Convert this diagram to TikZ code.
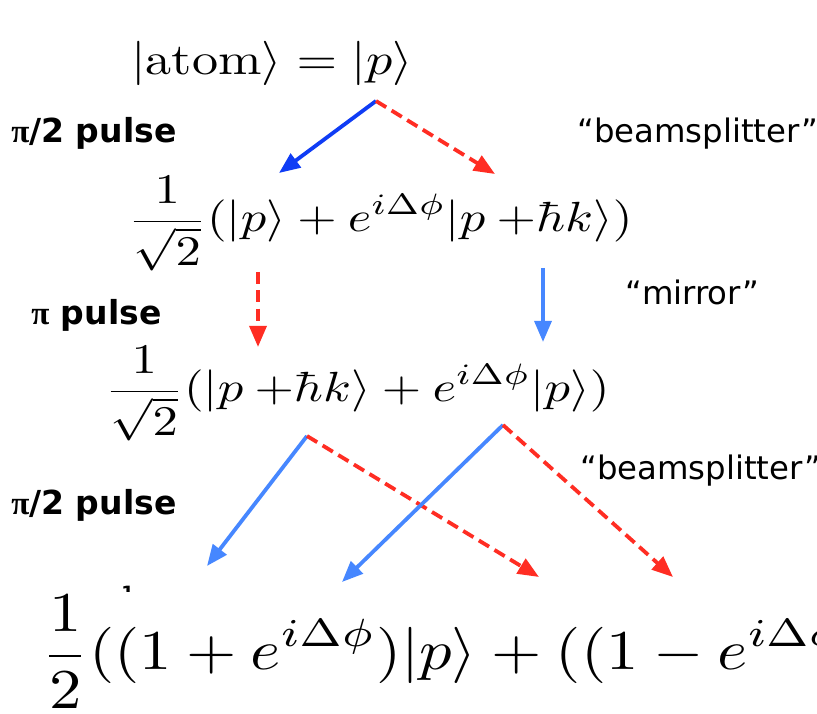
\documentclass[tikz,border=0pt]{standalone}
\usepackage{amsmath}
\usepackage{fontspec}
\usetikzlibrary{arrows.meta}

\newfontfamily\labelfont{DejaVu Sans}
\newfontfamily\pifont{Liberation Serif}

\definecolor{deepblue}{RGB}{15,60,245}
\definecolor{paleblue}{RGB}{70,135,255}
\definecolor{kickred}{RGB}{255,45,35}

\tikzset{
  eqn/.style={inner sep=0pt, anchor=base, xscale=3.6, yscale=3.0},
  pulselabel/.style={inner sep=0pt, anchor=base west,
    font=\fontsize{23.5}{28}\selectfont\labelfont\bfseries},
  optlabel/.style={inner sep=0pt, anchor=base west,
    font=\fontsize{23}{27}\selectfont\labelfont},
  arm/.style={line width=2.7pt, -{Triangle[length=15pt,width=12pt]}},
  restarm/.style={arm, draw=paleblue},
  kickarm/.style={arm, draw=kickred, dash pattern=on 8.5pt off 4.5pt},
}

\newcommand{\pk}{p\mskip\medmuskip{+}\hbar k}
\newcommand{\pisym}{{\pifont π}}

\begin{document}
\begin{tikzpicture}[x=0.025cm, y=-0.025cm]

  % -- frame, the last line is cut by the right edge --
  \clip (0,0) rectangle (817,714);
  \fill[white] (0,0) rectangle (817,714);

  % -- anchor points of the states --
  \coordinate (s0) at (272,75);
  \coordinate (s1) at (380,232);
  \coordinate (s2) at (357,402);
  \coordinate (s3) at (40,670);

  % -- states --
  \node[eqn, xscale=1.03, yscale=1.05] (atom) at (s0) {$\displaystyle |\mathrm{atom}\rangle = |p\rangle$};
  \node[eqn] (split) at (s1) {$\displaystyle \frac{1}{\sqrt{2}}(|p\rangle + e^{i\Delta\phi}|\pk\rangle)$};
  \node[eqn] (swap) at (s2) {$\displaystyle \frac{1}{\sqrt{2}}(|\pk\rangle + e^{i\Delta\phi}|p\rangle)$};
  \begin{scope}
    \clip (100,570) rectangle (160,592);
    \node[inner sep=0pt, anchor=base west, font=\fontsize{13}{15}\selectfont\labelfont\bfseries] (stray) at (121,600) {1};
  \end{scope}
  \node[inner sep=0pt, anchor=base west, xscale=4.6, yscale=4.0] (final) at (s3)
    {$\displaystyle \frac{1}{2}((1+e^{i\Delta\phi})|p\rangle + ((1-e^{i\Delta\phi})|\pk\rangle)$};

  % -- pulses and their optical names --
  \node[pulselabel] (pulse1) at (11,143) {\pisym/2 pulse};
  \node[pulselabel] (pulse2) at (31,325) {\pisym\ pulse};
  \node[pulselabel] (pulse3) at (11,515) {\pisym/2 pulse};
  \node[optlabel] (bs1) at (577,143) {“beamsplitter”};
  \node[optlabel] (mirror) at (625,305) {“mirror”};
  \node[optlabel] (bs2) at (580,480) {“beamsplitter”};

  % -- first pulse --
  \coordinate (a0) at (376,101);
  \coordinate (a1) at (279,173);
  \coordinate (a2) at (495,174);
  \draw[arm, draw=deepblue] (a0) -- (a1);
  \draw[kickarm] (a0) -- (a2);

  % -- second pulse --
  \coordinate (b1) at (258,272);
  \coordinate (b1e) at (258,347);
  \coordinate (b2) at (543,268);
  \coordinate (b2e) at (543,342);
  \draw[kickarm] (b1) -- (b1e);
  \draw[restarm] (b2) -- (b2e);

  % -- third pulse --
  \coordinate (c1) at (307,436);
  \coordinate (c2) at (503,425);
  \coordinate (c1l) at (207,566);
  \coordinate (c1r) at (539,577);
  \coordinate (c2l) at (342,582);
  \coordinate (c2r) at (673,577);
  \draw[restarm] (c1) -- (c1l);
  \draw[kickarm] (c1) -- (c1r);
  \draw[restarm] (c2) -- (c2l);
  \draw[kickarm] (c2) -- (c2r);

\end{tikzpicture}
\end{document}
